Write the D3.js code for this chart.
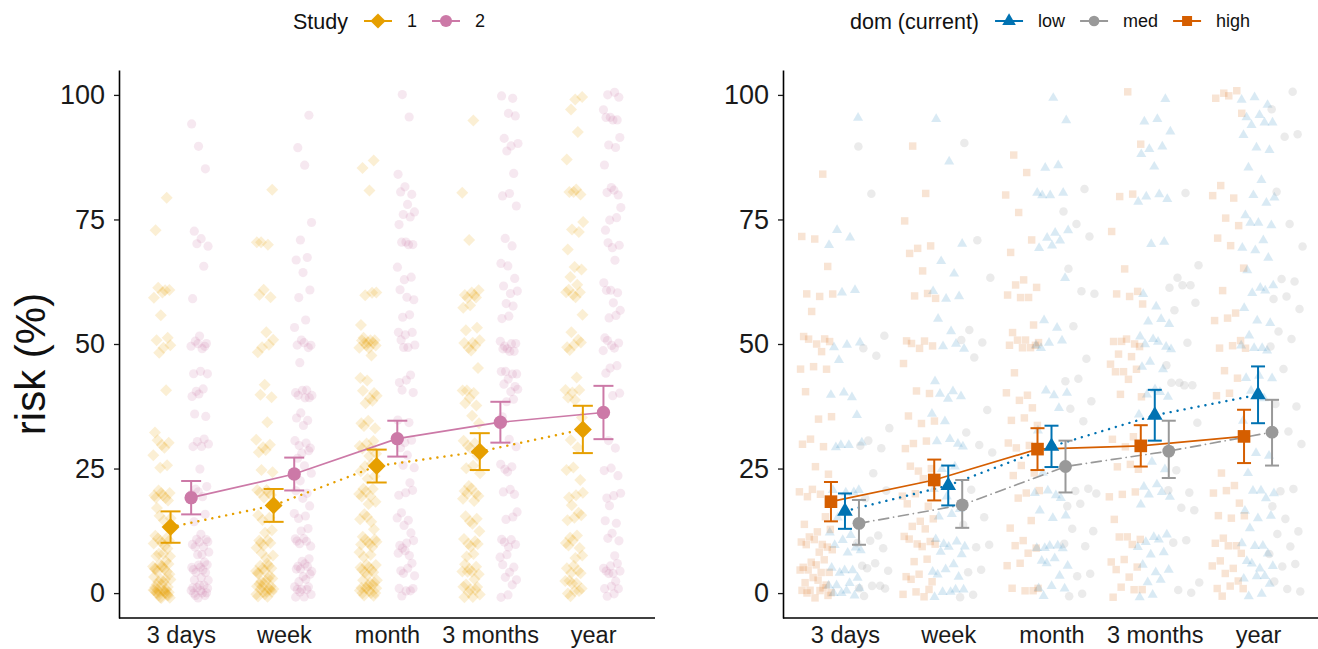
<!DOCTYPE html>
<html>
<head>
<meta charset="utf-8">
<script src="https://cdn.jsdelivr.net/npm/d3@7"></script>
<style>
  html, body { margin: 0; padding: 0; background: #fff; }
  svg { display: block; }
</style>
</head>
<body>
<div id="chart"></div>
<script>
// categories and ticks
const timepoints = ["3 days", "week", "month", "3 months", "year"];
const yTicks = [0, 25, 50, 75, 100];

// left panel: means with error bars, by study
const study1Mean = [13.25, 17.6, 25.5, 28.4, 32.85];
const study1Low  = [10.1, 14.3, 22.2, 24.7, 28.1];
const study1High = [16.4, 20.9, 28.8, 32.1, 37.6];
const study2Mean = [19.15, 23.9, 31.0, 34.3, 36.25];
const study2Low  = [15.8, 20.6, 27.4, 30.2, 30.9];
const study2High = [22.5, 27.2, 34.6, 38.4, 41.6];

// right panel: means with error bars, by dom (current)
const domLowMean  = [16.45, 21.6, 29.45, 35.7, 39.8];
const domLowLow   = [12.9, 17.6, 25.3, 30.6, 34.1];
const domLowHigh  = [20.0, 25.6, 33.6, 40.8, 45.5];
const domMedMean  = [14.0, 17.7, 25.4, 28.5, 32.3];
const domMedLow   = [9.7, 13.1, 20.2, 23.1, 25.6];
const domMedHigh  = [18.7, 22.7, 30.6, 34.6, 38.8];
const domHighMean = [18.35, 22.7, 28.9, 29.55, 31.45];
const domHighLow  = [14.4, 18.6, 24.7, 25.4, 26.1];
const domHighHigh = [22.3, 26.8, 33.1, 33.7, 36.8];

// raw responses, one [value, count] table per timepoint
const study1Raw = [
  [[0,14],[1,6],[2,5],[3,4],[5,10],[7,3],[8,3],[10,6],[12,2],[15,3],[18,2],[20,7],[25,2],[28,1],[30,4],[33,1],[40,1],[48,1],[50,3],[51,1],[56,1],[60,2],[61,3],[72,1],[79,1]],
  [[0,9],[1,5],[2,4],[3,4],[5,8],[8,3],[10,6],[13,2],[15,3],[18,1],[20,6],[25,2],[28,2],[30,3],[34,1],[40,2],[41,1],[48,1],[50,3],[52,1],[60,3],[70,2],[71,1],[80,1]],
  [[0,8],[1,3],[2,4],[3,3],[5,8],[8,3],[10,7],[12,2],[15,4],[18,2],[20,6],[23,2],[25,3],[28,2],[30,5],[33,2],[35,2],[38,2],[40,4],[43,1],[44,1],[47,1],[50,8],[51,3],[53,1],[60,2],[61,1],[80,1],[85,1],[87,1]],
  [[0,5],[1,3],[2,2],[4,2],[5,5],[7,2],[10,5],[13,2],[15,3],[18,2],[20,5],[22,1],[25,3],[28,1],[30,4],[35,2],[38,2],[40,3],[41,1],[46,1],[48,1],[50,5],[53,1],[54,1],[57,2],[60,6],[70,1],[80,1],[95,1]],
  [[0,4],[1,2],[2,2],[3,2],[5,4],[7,2],[10,4],[12,2],[15,3],[17,2],[20,3],[22,1],[25,2],[30,2],[35,1],[39,1],[40,3],[41,1],[44,1],[48,1],[50,4],[52,1],[56,1],[60,4],[61,2],[63,1],[65,1],[66,1],[68,1],[72,1],[73,1],[75,1],[80,3],[81,1],[88,1],[92,1],[97,1],[100,2]]
];
const study2Raw = [
  [[0,8],[1,3],[2,3],[3,2],[5,8],[7,2],[8,2],[10,7],[12,1],[15,2],[20,4],[21,1],[25,1],[30,5],[35,2],[40,4],[44,1],[45,2],[49,1],[50,5],[52,1],[60,1],[65,1],[70,2],[72,2],[85,1],[90,1],[95,1]],
  [[0,6],[1,2],[2,3],[4,3],[5,5],[7,2],[10,6],[13,2],[15,3],[18,1],[20,3],[23,1],[25,2],[27,1],[29,2],[30,4],[33,1],[35,2],[37,1],[39,2],[40,4],[41,1],[47,1],[49,1],[50,4],[53,1],[55,1],[60,2],[64,1],[67,1],[68,1],[70,1],[74,1],[86,1],[90,1],[95,1]],
  [[0,3],[1,2],[3,2],[5,3],[8,3],[10,4],[13,2],[15,2],[17,1],[20,3],[23,1],[25,2],[28,1],[30,3],[35,2],[40,2],[43,3],[49,1],[50,3],[52,2],[53,1],[55,2],[59,1],[60,2],[63,2],[66,1],[69,1],[70,2],[71,1],[73,1],[75,1],[76,1],[77,1],[79,1],[80,2],[82,1],[85,1],[95,1],[100,1]],
  [[0,2],[1,1],[3,2],[5,3],[8,2],[10,5],[15,2],[17,1],[20,3],[25,4],[30,2],[35,1],[39,2],[40,2],[42,3],[44,2],[45,2],[48,1],[49,2],[50,4],[51,1],[55,2],[58,1],[59,1],[60,2],[62,1],[64,1],[65,1],[66,1],[70,1],[72,1],[77,1],[80,2],[85,1],[88,1],[90,2],[92,1],[95,1],[96,1],[100,2]],
  [[0,3],[1,2],[3,2],[4,2],[5,4],[8,1],[10,2],[12,1],[15,2],[17,1],[20,3],[23,1],[25,2],[30,2],[40,2],[45,3],[49,1],[50,4],[52,1],[55,2],[57,1],[59,1],[60,2],[61,1],[63,1],[66,1],[70,3],[72,1],[75,2],[78,1],[80,3],[82,1],[85,1],[89,1],[90,1],[92,1],[94,1],[95,2],[96,1],[98,1],[100,3]]
];
const domLowRaw = [
  [[0,4],[1,2],[2,2],[4,2],[5,3],[8,2],[10,3],[12,2],[16,1],[20,2],[21,2],[29,1],[30,3],[35,1],[40,3],[46,1],[50,3],[60,2],[70,1],[72,2],[95,1]],
  [[0,3],[1,2],[3,2],[5,3],[8,2],[10,5],[15,2],[17,1],[20,2],[25,2],[30,4],[35,2],[40,4],[42,1],[50,3],[52,1],[55,1],[60,3],[64,1],[67,1],[71,1],[86,1],[95,1]],
  [[0,2],[1,2],[4,1],[5,2],[7,2],[8,1],[9,2],[10,2],[15,2],[17,1],[20,4],[25,2],[29,1],[33,1],[38,1],[40,3],[50,4],[54,2],[63,1],[70,3],[71,1],[73,2],[79,1],[80,2],[81,1],[85,2],[95,1],[100,1]],
  [[0,2],[2,2],[5,3],[8,2],[10,3],[12,2],[17,1],[20,3],[21,2],[25,1],[27,1],[35,1],[40,4],[45,2],[47,1],[48,1],[50,4],[51,1],[55,3],[57,1],[60,1],[71,2],[78,1],[80,3],[85,1],[88,1],[90,2],[92,1],[95,2],[100,1]],
  [[0,2],[1,1],[3,2],[4,1],[5,3],[7,2],[9,1],[10,2],[12,1],[15,2],[17,1],[20,3],[21,1],[25,1],[27,1],[28,1],[35,1],[40,2],[43,1],[44,2],[48,1],[49,1],[50,2],[51,1],[54,1],[55,1],[58,1],[60,2],[62,2],[64,1],[67,1],[69,1],[70,2],[74,2],[75,2],[78,1],[80,2],[82,1],[85,1],[89,1],[90,1],[91,1],[94,2],[95,3],[98,1],[100,2]]
];
const domMedRaw = [
  [[0,2],[1,2],[2,1],[4,2],[6,2],[10,3],[12,1],[20,2],[24,1],[30,3],[33,1],[48,1],[50,1],[51,1],[80,1],[90,1]],
  [[0,2],[4,2],[10,2],[13,1],[15,1],[21,1],[29,2],[32,1],[37,1],[48,1],[50,2],[53,1],[64,1],[70,1],[90,1]],
  [[0,2],[3,2],[10,2],[12,2],[18,2],[20,3],[35,1],[38,2],[43,2],[48,1],[53,1],[60,1],[61,1],[66,1],[71,1],[74,1],[77,1],[82,1]],
  [[0,1],[1,1],[3,1],[10,2],[17,1],[18,1],[20,2],[25,1],[35,1],[41,1],[42,2],[43,1],[45,1],[50,1],[57,1],[59,1],[61,2],[62,1],[64,1],[65,1],[80,1]],
  [[0,1],[1,1],[3,1],[5,2],[8,1],[10,1],[11,1],[12,1],[15,1],[18,1],[20,2],[30,1],[33,1],[37,2],[45,1],[50,2],[52,1],[57,1],[60,2],[62,1],[63,1],[70,1],[75,1],[80,1],[92,2],[98,1],[100,1]]
];
const domHighRaw = [
  [[0,5],[1,3],[2,3],[4,3],[5,4],[7,2],[8,2],[10,5],[12,3],[14,1],[16,1],[20,4],[23,1],[25,1],[30,3],[35,2],[41,1],[44,1],[45,2],[49,1],[50,3],[52,2],[56,1],[60,2],[61,1],[65,1],[71,1],[72,1],[85,1]],
  [[0,4],[2,2],[4,2],[6,2],[10,5],[12,2],[13,1],[15,2],[17,2],[20,2],[22,1],[25,3],[30,3],[35,3],[40,1],[41,1],[47,1],[50,5],[60,3],[64,1],[68,1],[70,2],[74,1],[80,1],[90,1]],
  [[0,2],[1,2],[5,2],[8,1],[10,3],[13,1],[15,1],[20,3],[24,1],[25,2],[30,3],[33,1],[35,2],[38,2],[40,2],[45,1],[49,2],[50,4],[51,1],[53,2],[59,1],[60,2],[61,2],[63,1],[69,1],[70,1],[76,1],[80,1],[85,1],[87,1]],
  [[0,2],[1,2],[4,2],[5,1],[7,2],[9,1],[11,2],[12,1],[14,1],[20,3],[25,3],[30,2],[31,1],[40,2],[42,1],[44,1],[45,3],[47,1],[48,1],[50,4],[51,1],[59,2],[60,1],[61,1],[66,1],[72,1],[80,2],[91,1],[100,1]],
  [[0,2],[1,2],[3,2],[5,2],[7,2],[9,1],[10,2],[12,1],[15,2],[16,1],[19,1],[20,2],[22,1],[25,1],[31,1],[40,2],[44,2],[49,1],[50,3],[55,2],[57,1],[60,1],[65,1],[70,1],[72,1],[73,1],[75,1],[80,2],[81,1],[96,1],[100,4]]
];

const FONT = "'Liberation Sans', Arial, Helvetica, sans-serif";
const W = 1318, H = 649;
const TOP = 70, BOTTOM = 618;

const svg = d3.select("#chart").append("svg")
  .attr("width", W).attr("height", H)
  .style("font-family", FONT);

const y = d3.scaleLinear().domain([-5, 105]).range([BOTTOM, TOP]);

// deterministic jitter (golden-ratio sequence) so the layout is stable
const jit = (i, seed) => (((i + 1) * 0.6180339887 + seed) % 1) * 2 - 1;
const jitY = (i, seed) => (((i + 1) * 0.7548776662 + seed) % 1) * 2 - 1;

function shapePath(shape, area) {
  const type = { circle: d3.symbolCircle, square: d3.symbolSquare, diamond: d3.symbolSquare, triangle: d3.symbolTriangle }[shape];
  return d3.symbol(type, area)();
}
function shapeTransform(shape, px, py) {
  return `translate(${px},${py})` + (shape === "diamond" ? " rotate(45)" : "");
}

const DASH = { solid: null, dotted: "0.1 7", dotdash: "10 5 0.1 5" };

function drawPanel(cfg) {
  const x = d3.scalePoint().domain(timepoints).range([cfg.x0, cfg.x1]).padding(0.6);
  const g = svg.append("g");

  // raw responses
  cfg.groups.forEach((grp, gi) => {
    const pts = [];
    grp.raw.forEach((table, ti) => {
      let i = 0;
      table.forEach(([v, n]) => {
        for (let k = 0; k < n; k++, i++) {
          pts.push({ t: timepoints[ti], v, dx: jit(i, gi * 0.31 + ti * 0.17), dy: jitY(i, gi * 0.23 + ti * 0.11) });
        }
      });
    });
    g.append("g").selectAll("path").data(pts).join("path")
      .attr("d", shapePath(grp.shape, grp.rawSize))
      .attr("transform", d => shapeTransform(grp.shape, x(d.t) + grp.rawOffset + d.dx * cfg.jitterW, y(d.v + d.dy * 1.0)))
      .attr("fill", grp.color)
      .attr("fill-opacity", grp.rawAlpha);
  });

  // mean lines
  cfg.groups.forEach(grp => {
    const line = d3.line().x((d, i) => x(timepoints[i]) + grp.meanOffset).y(d => y(d));
    g.append("path").datum(grp.mean)
      .attr("d", line)
      .attr("fill", "none")
      .attr("stroke", grp.color)
      .attr("stroke-width", grp.dash === "dotted" ? 2.4 : 1.7)
      .attr("stroke-linecap", grp.dash === "solid" ? "butt" : "round")
      .attr("stroke-dasharray", DASH[grp.dash]);
  });

  // error bars
  cfg.groups.forEach(grp => {
    const eb = g.append("g").attr("stroke", grp.color).attr("stroke-width", 2).attr("fill", "none");
    timepoints.forEach((t, i) => {
      const cx = x(t) + grp.meanOffset;
      eb.append("line").attr("x1", cx).attr("x2", cx).attr("y1", y(grp.lo[i])).attr("y2", y(grp.hi[i]));
      eb.append("line").attr("x1", cx - cfg.capW / 2).attr("x2", cx + cfg.capW / 2).attr("y1", y(grp.lo[i])).attr("y2", y(grp.lo[i]));
      eb.append("line").attr("x1", cx - cfg.capW / 2).attr("x2", cx + cfg.capW / 2).attr("y1", y(grp.hi[i])).attr("y2", y(grp.hi[i]));
    });
  });

  // mean points
  cfg.groups.forEach(grp => {
    g.append("g").selectAll("path").data(grp.mean).join("path")
      .attr("d", shapePath(grp.shape, grp.meanSize))
      .attr("transform", (d, i) => shapeTransform(grp.shape, x(timepoints[i]) + grp.meanOffset, y(d)))
      .attr("fill", grp.color);
  });

  // axes
  const ya = g.append("g").attr("transform", `translate(${cfg.x0},0)`)
    .call(d3.axisLeft(y).tickValues(yTicks).tickSizeInner(5).tickSizeOuter(0).tickPadding(9));
  ya.selectAll("text").attr("font-size", 27).attr("fill", "#1a1a1a").style("font-family", FONT);
  ya.selectAll(".tick line").attr("stroke", "#1a1a1a").attr("stroke-width", 1.3);
  ya.select(".domain").attr("stroke", "#000").attr("stroke-width", 1.6);

  const xa = g.append("g").attr("transform", `translate(0,${BOTTOM})`)
    .call(d3.axisBottom(x).tickSizeInner(0).tickSizeOuter(0).tickPadding(8));
  xa.selectAll("text").attr("font-size", 23.5).attr("fill", "#1a1a1a").style("font-family", FONT);
  xa.select(".domain").attr("stroke", "#000").attr("stroke-width", 1.6);
  // axis path drawn over full panel width
  xa.select(".domain").attr("d", `M${cfg.x0},0H${cfg.x1}`);

  // legend
  const lg = svg.append("g").attr("transform", `translate(${cfg.legendX},21)`);
  let cursor = 0;
  const title = lg.append("text").attr("x", cursor).attr("dy", "0.35em")
    .attr("font-size", 21.5).attr("fill", "#111").text(cfg.legendTitle);
  cursor += title.node().getComputedTextLength() + 16;
  cfg.groups.slice().sort((a, b) => a.order - b.order).forEach(grp => {
    lg.append("line").attr("x1", cursor).attr("x2", cursor + 28).attr("y1", 0).attr("y2", 0)
      .attr("stroke", grp.color).attr("stroke-width", 2);
    lg.append("path").attr("d", shapePath(grp.shape, grp.keySize))
      .attr("transform", shapeTransform(grp.shape, cursor + 14, 0)).attr("fill", grp.color);
    cursor += 28 + 15;
    const lab = lg.append("text").attr("x", cursor).attr("dy", "0.35em")
      .attr("font-size", 18).attr("fill", "#111").text(grp.name);
    cursor += lab.node().getComputedTextLength() + 15;
  });
}

drawPanel({
  x0: 119, x1: 655, jitterW: 9, capW: 20, legendX: 293, legendTitle: "Study",
  groups: [
    { name: "1", order: 0, raw: study1Raw, mean: study1Mean, lo: study1Low, hi: study1High, color: "#E69F00",
      shape: "diamond", rawSize: 72, meanSize: 160, keySize: 115, rawAlpha: 0.17, rawOffset: -19, meanOffset: -10.3, dash: "dotted" },
    { name: "2", order: 1, raw: study2Raw, mean: study2Mean, lo: study2Low, hi: study2High, color: "#CC79A7",
      shape: "circle", rawSize: 66, meanSize: 140, keySize: 115, rawAlpha: 0.17, rawOffset: 19, meanOffset: 10.3, dash: "solid" }
  ]
});

drawPanel({
  x0: 783, x1: 1320, jitterW: 17, capW: 14, legendX: 850, legendTitle: "dom (current)",
  groups: [
    { name: "high", order: 2, raw: domHighRaw, mean: domHighMean, lo: domHighLow, hi: domHighHigh, color: "#D55E00",
      shape: "square", rawSize: 56, meanSize: 160, keySize: 100, rawAlpha: 0.17, rawOffset: -29, meanOffset: -14, dash: "solid" },
    { name: "low", order: 0, raw: domLowRaw, mean: domLowMean, lo: domLowLow, hi: domLowHigh, color: "#0072B2",
      shape: "triangle", rawSize: 44, meanSize: 105, keySize: 80, rawAlpha: 0.15, rawOffset: 0, meanOffset: 0, dash: "dotted" },
    { name: "med", order: 1, raw: domMedRaw, mean: domMedMean, lo: domMedLow, hi: domMedHigh, color: "#999999",
      shape: "circle", rawSize: 57, meanSize: 130, keySize: 90, rawAlpha: 0.2, rawOffset: 28, meanOffset: 14, dash: "dotdash" }
  ]
});

// shared y-axis title
svg.append("text")
  .attr("transform", `translate(45,364) rotate(-90)`)
  .attr("text-anchor", "middle")
  .attr("font-size", 42)
  .attr("fill", "#111")
  .text("risk (%)");
</script>
</body>
</html>
